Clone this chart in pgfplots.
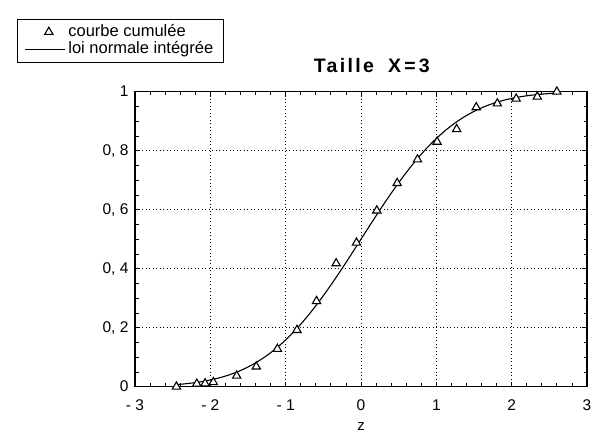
\documentclass[border=0pt]{standalone}
\usepackage{fontspec}
\setmainfont{Liberation Sans}
\usepackage{pgfplots}
\pgfplotsset{compat=1.18}
\pgfplotsset{
  trilegend/.style={legend image code/.code={\draw[##1] plot coordinates {(24pt,0pt)};}},
  linelegend/.style={legend image code/.code={\draw[##1] (0pt,0pt) -- (40pt,0pt);}},
}

\begin{document}
\begin{tikzpicture}[x=1pt,y=1pt]
\useasboundingbox (0,0) rectangle (594,434);
\begin{axis}[
  at={(135pt,47.3pt)}, anchor=south west,
  scale only axis, width=452pt, height=295pt,
  xmin=-3, xmax=3, ymin=0, ymax=1,
  xtick={-3,-2,-1,0,1,2,3},
  xticklabels={- 3,- 2,- 1,0,1,2,3},
  ytick={0,0.2,0.4,0.6,0.8,1},
  yticklabels={0,{0, 2},{0, 4},{0, 6},{0, 8},1},
  minor x tick num=4, minor y tick num=3,
  xtick pos=both, ytick pos=both,
  tick align=inside,
  major tick length=5pt, minor tick length=3.5pt,
  every tick/.style={black, line width=0.8pt},
  axis line style={line width=1.2pt},
  grid=major,
  major grid style={black, line width=0.8pt, dash pattern=on 1pt off 2.5pt},
  ticklabel style={font=\fontsize{15.5}{18}\selectfont},
  xticklabel style={anchor=base, yshift=-24pt},
  yticklabel style={xshift=-3pt, text height=10.5pt, text depth=0pt},
  title={\addfontfeatures{LetterSpace=12}Taille\hspace{14pt}X\,=\,3},
  title style={font=\fontsize{19.5}{22}\selectfont\bfseries, at={(axis description cs:0.524,1)}, anchor=base, yshift=13pt},
  xlabel={z},
  xlabel style={font=\fontsize{15}{18}\selectfont, at={(axis description cs:0.5,0)}, anchor=base, yshift=-44pt},
  legend cell align=left,
  legend style={at={(axis description cs:-0.262,1.248)}, anchor=north west,
    font=\fontsize{16.5}{17}\selectfont, draw=black, line width=1.4pt, fill=white,
    inner xsep=7pt, inner ysep=4pt, row sep=0pt,
    nodes={inner xsep=3pt, inner ysep=1pt, text height=12pt, text depth=3.5pt}},
]
\addplot[only marks, mark=triangle*, mark size=4.8pt,
  mark options={fill=white, draw=black, line width=1.1pt}, trilegend]
  coordinates {
  (-2.45,0.000) (-2.18,0.010) (-2.07,0.011) (-1.96,0.015) (-1.65,0.037)
  (-1.39,0.068) (-1.11,0.128) (-0.85,0.192) (-0.59,0.290) (-0.33,0.418)
  (-0.06,0.488) (0.21,0.597) (0.48,0.690) (0.75,0.770) (1.01,0.830)
  (1.27,0.873) (1.53,0.947) (1.81,0.960) (2.06,0.976) (2.34,0.983)
  (2.60,1.000)
  };
\addlegendentry{courbe cumulée}
\addplot[black, line width=1.1pt, smooth, linelegend]
  coordinates {
  (-2.45,0.0071) (-2.375,0.0088) (-2.25,0.0122) (-2.125,0.0168) (-2.0,0.0228)
  (-1.875,0.0304) (-1.75,0.0401) (-1.625,0.0521) (-1.5,0.0668) (-1.375,0.0846)
  (-1.25,0.1056) (-1.125,0.1303) (-1.0,0.1587) (-0.875,0.1908) (-0.75,0.2266)
  (-0.625,0.2660) (-0.5,0.3085) (-0.375,0.3538) (-0.25,0.4013) (-0.125,0.4503)
  (0,0.5) (0.125,0.5497) (0.25,0.5987) (0.375,0.6462) (0.5,0.6915)
  (0.625,0.7340) (0.75,0.7734) (0.875,0.8092) (1.0,0.8413) (1.125,0.8697)
  (1.25,0.8944) (1.375,0.9154) (1.5,0.9332) (1.625,0.9479) (1.75,0.9599)
  (1.875,0.9696) (2.0,0.9772) (2.125,0.9832) (2.25,0.9878) (2.375,0.9912)
  (2.5,0.9938) (2.6,0.9953)
  };
\addlegendentry{loi normale intégrée}
\end{axis}
\end{tikzpicture}
\end{document}
